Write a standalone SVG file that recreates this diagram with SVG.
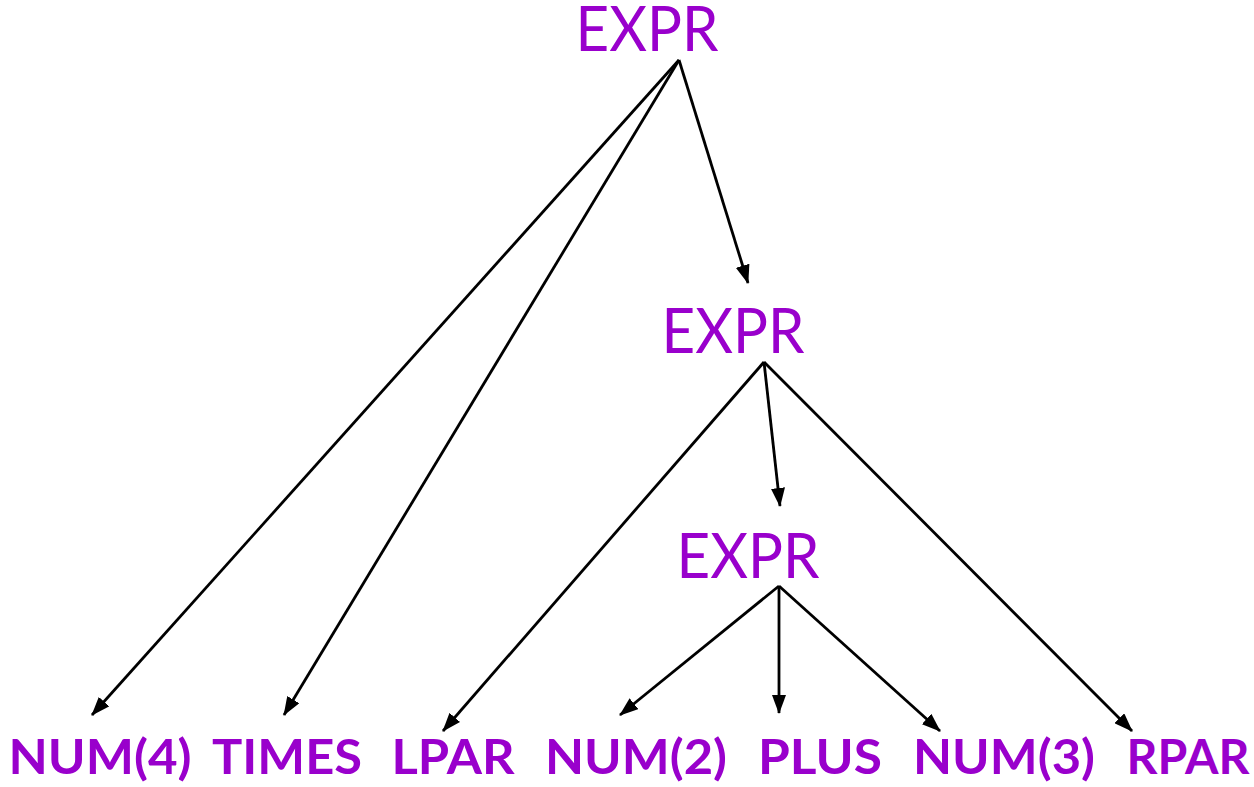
<svg xmlns="http://www.w3.org/2000/svg" width="1254" height="787" viewBox="0 0 1254 787">
<style>
.nt{font-family:Lato,"Open Sans","Liberation Sans",sans-serif;font-size:61px;fill:#9900CC;text-anchor:middle}
.t{font-family:Lato,"Open Sans","Liberation Sans",sans-serif;font-size:47px;font-weight:bold;fill:#9900CC;text-anchor:middle}
.e{stroke:#000;stroke-width:2.8;fill:none;marker-end:url(#ah)}
</style>
<defs>
<marker id="ah" markerUnits="userSpaceOnUse" markerWidth="19" markerHeight="14" refX="18" refY="7" orient="auto" viewBox="0 0 19 14">
<path d="M0,0 L19,7 L0,14 z" fill="#000"/>
</marker>
</defs>
<rect width="1254" height="787" fill="#fff"/>
<g id="connectors">
<line class="e" x1="679" y1="60" x2="92" y2="715"/>
<line class="e" x1="679" y1="60" x2="284" y2="715"/>
<line class="e" x1="679" y1="60" x2="748" y2="283"/>
<line class="e" x1="764" y1="362" x2="443" y2="731"/>
<line class="e" x1="764" y1="362" x2="780" y2="506"/>
<line class="e" x1="764" y1="362" x2="1132" y2="731"/>
<line class="e" x1="779" y1="586" x2="620" y2="715"/>
<line class="e" x1="779" y1="586" x2="779" y2="713"/>
<line class="e" x1="779" y1="586" x2="940" y2="731"/>
</g>
<g id="expr1"><text class="nt" x="647" y="51" textLength="143" lengthAdjust="spacingAndGlyphs">EXPR</text></g>
<g id="expr2"><text class="nt" x="733" y="353" textLength="143" lengthAdjust="spacingAndGlyphs">EXPR</text></g>
<g id="expr3"><text class="nt" x="748" y="578" textLength="143" lengthAdjust="spacingAndGlyphs">EXPR</text></g>
<g id="num4"><text class="t" x="100" y="774" textLength="183" lengthAdjust="spacingAndGlyphs">NUM(4)</text></g>
<g id="times"><text class="t" x="287" y="774" textLength="150" lengthAdjust="spacingAndGlyphs">TIMES</text></g>
<g id="lpar"><text class="t" x="453" y="774" textLength="123" lengthAdjust="spacingAndGlyphs">LPAR</text></g>
<g id="num2"><text class="t" x="636" y="774" textLength="182" lengthAdjust="spacingAndGlyphs">NUM(2)</text></g>
<g id="plus"><text class="t" x="820" y="774" textLength="124" lengthAdjust="spacingAndGlyphs">PLUS</text></g>
<g id="num3"><text class="t" x="1004" y="774" textLength="182" lengthAdjust="spacingAndGlyphs">NUM(3)</text></g>
<g id="rpar"><text class="t" x="1188" y="774" textLength="123" lengthAdjust="spacingAndGlyphs">RPAR</text></g>
</svg>
